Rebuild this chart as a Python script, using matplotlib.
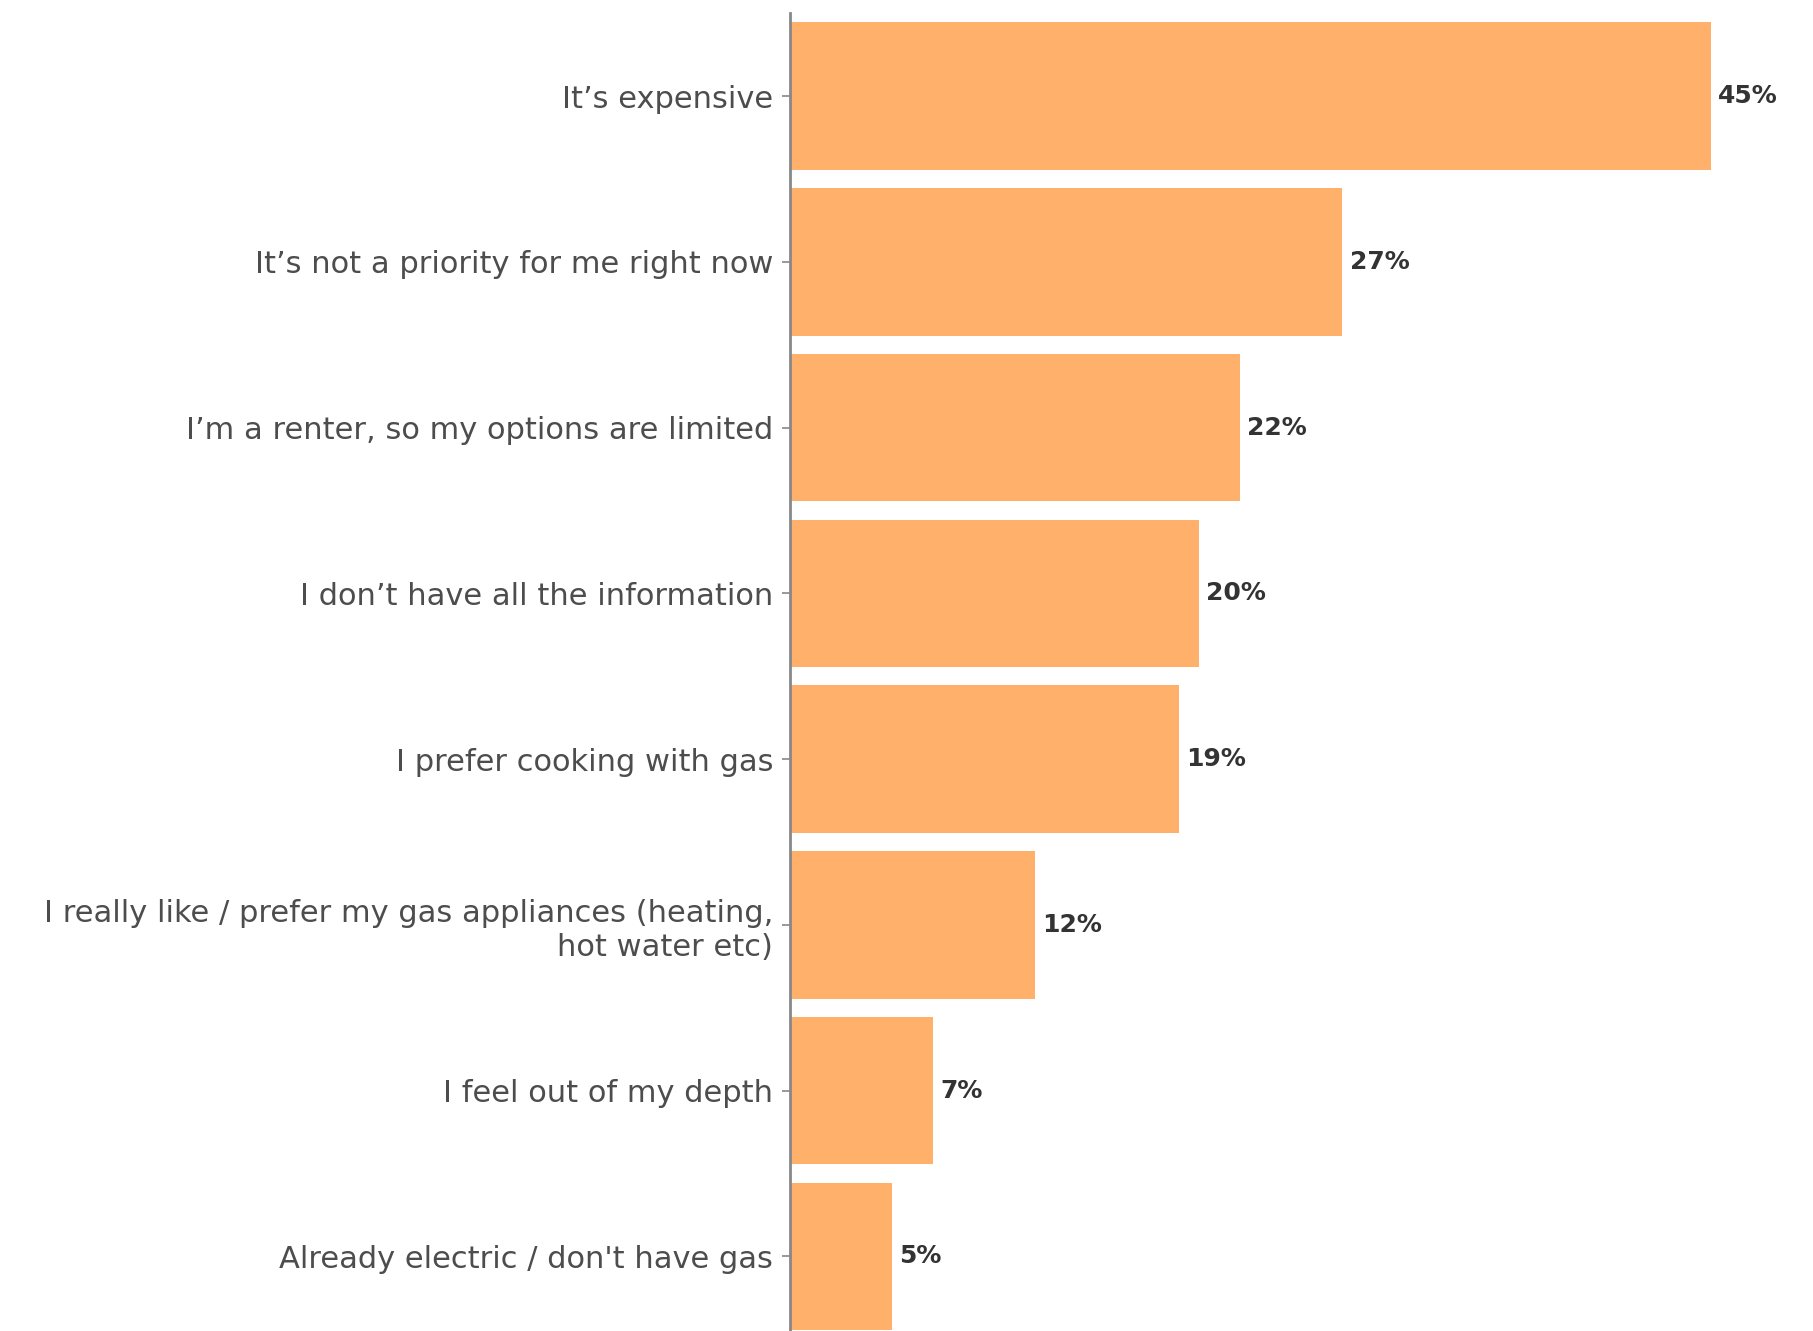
import matplotlib
matplotlib.use("Agg")
import matplotlib.pyplot as plt

labels = [
    "It\u2019s expensive",
    "It\u2019s not a priority for me right now",
    "I\u2019m a renter, so my options are limited",
    "I don\u2019t have all the information",
    "I prefer cooking with gas",
    "I really like / prefer my gas appliances (heating,\nhot water etc)",
    "I feel out of my depth",
    "Already electric / don't have gas",
]
values = [45, 27, 22, 20, 19, 12, 7, 5]

bar_color = "#FFB06A"

fig = plt.figure(figsize=(18.13, 13.31), dpi=100)
ax = fig.add_axes([0.4357, 0.0, 0.5643, 0.990])

ypos = list(range(len(labels)))
ax.barh(ypos, values, height=0.89, color=bar_color)
ax.set_xlim(0, 50)
ax.set_ylim(7.45, -0.5)

ax.set_yticks(ypos)
ax.set_yticklabels(labels, fontsize=22, color="#4d4d4d", family="DejaVu Sans",
                   linespacing=1.2)
ax.tick_params(axis="y", length=6, width=1.2, color="#888888", pad=6)
ax.set_xticks([])

for s in ["top", "right", "bottom"]:
    ax.spines[s].set_visible(False)
ax.spines["left"].set_color("#888888")
ax.spines["left"].set_linewidth(2)

for y, v in zip(ypos, values):
    ax.text(v + 0.35, y, f"{v}%", va="center", ha="left", fontsize=18,
            fontweight="bold", color="#333333", family="DejaVu Sans")

fig.savefig("out.png", dpi=100)
